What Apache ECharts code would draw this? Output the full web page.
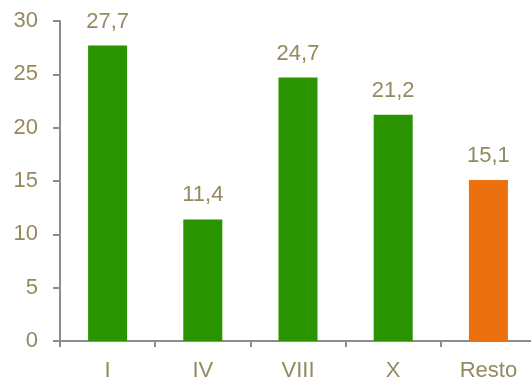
<!DOCTYPE html>
<html>
<head>
<meta charset="utf-8">
<script src="https://cdn.jsdelivr.net/npm/echarts@6/dist/echarts.min.js"></script>
<style>
  html, body { margin: 0; padding: 0; background: #fff; }
  #chart { width: 531px; height: 378px; }
</style>
</head>
<body>
<div id="chart"></div>
<script>
const categories = ['I', 'IV', 'VIII', 'X', 'Resto'];
const values = [27.7, 11.4, 24.7, 21.2, 15.1];
const barColors = ['#2a9400', '#2a9400', '#2a9400', '#2a9400', '#eb7010'];

const textColor = '#948a5f';
const axisColor = '#8c8c8c';

const chart = echarts.init(document.getElementById('chart'));

const options = {
  animation: false,
  textStyle: { fontFamily: 'Liberation Sans, Arial, sans-serif' },
  grid: { left: 60, right: -5, top: 21, bottom: 37, outerBoundsMode: 'none', containLabel: false },
  xAxis: {
    type: 'category',
    data: categories,
    axisLine: { lineStyle: { color: axisColor, width: 2 } },
    axisTick: { show: true, length: 6, lineStyle: { color: axisColor, width: 2 } },
    axisLabel: { color: textColor, fontSize: 22, margin: 19 }
  },
  yAxis: {
    type: 'value',
    min: 0,
    max: 30,
    interval: 5,
    splitLine: { show: false },
    axisLine: { show: true, lineStyle: { color: axisColor, width: 2 } },
    axisTick: { show: true, length: 7, lineStyle: { color: axisColor, width: 2 } },
    axisLabel: { color: textColor, fontSize: 22, margin: 22 }
  },
  series: [
    {
      type: 'bar',
      barWidth: 39,
      data: values.map((v, i) => ({ value: v, itemStyle: { color: barColors[i] } })),
      label: {
        show: true,
        position: 'top',
        distance: 13,
        color: textColor,
        fontSize: 22,
        formatter: (p) => String(p.value).replace('.', ',')
      }
    }
  ]
};

chart.setOption(options);
</script>
</body>
</html>
